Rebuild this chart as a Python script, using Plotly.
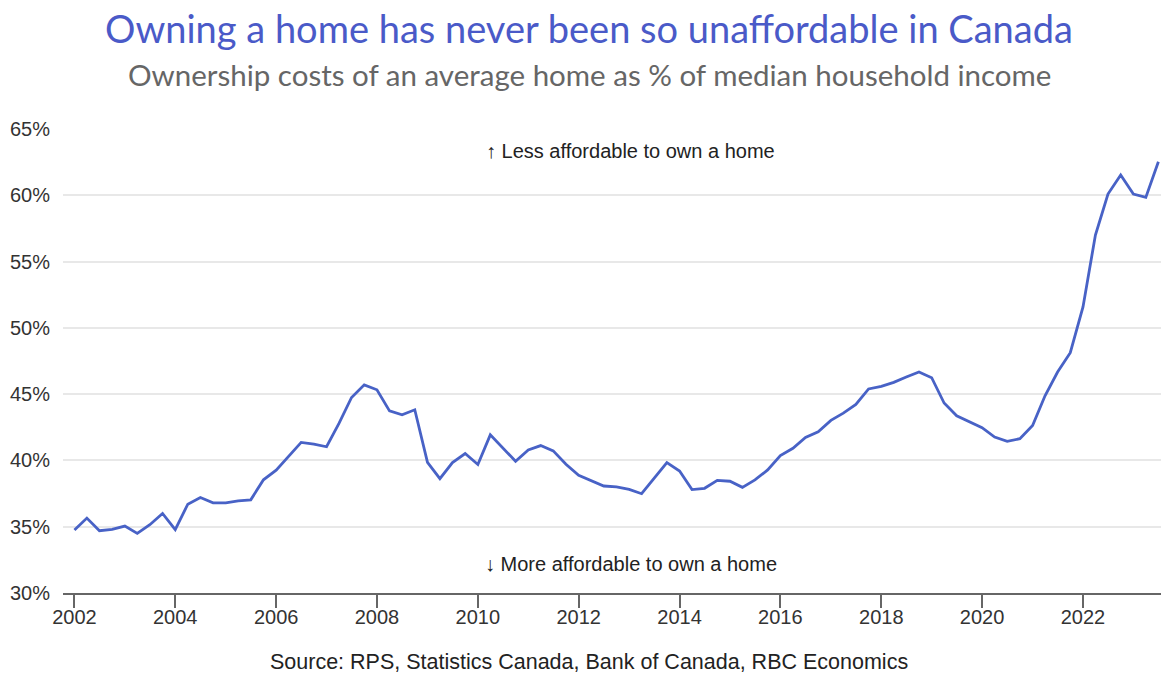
import pandas as pd
import plotly.graph_objects as go

# Quarterly ownership costs (% of median household income), 2002Q1 - 2023Q3
quarters = pd.date_range("2002-01-01", periods=87, freq="QS")
ownership_cost_pct = [
    34.75, 35.65, 34.70, 34.80,   # 2002
    35.05, 34.50, 35.15, 36.00,   # 2003
    34.78, 36.70, 37.20, 36.80,   # 2004
    36.80, 36.95, 37.03, 38.54,   # 2005
    39.27, 40.28, 41.36, 41.23,   # 2006
    41.03, 42.79, 44.75, 45.70,   # 2007
    45.33, 43.74, 43.44, 43.82,   # 2008
    39.85, 38.62, 39.84, 40.52,   # 2009
    39.69, 41.93, 40.97, 39.94,   # 2010
    40.79, 41.12, 40.72, 39.71,   # 2011
    38.88, 38.50, 38.07, 38.00,   # 2012
    37.82, 37.49, 38.65, 39.84,   # 2013
    39.20, 37.80, 37.90, 38.50,   # 2014
    38.43, 37.97, 38.53, 39.28,   # 2015
    40.37, 40.92, 41.73, 42.16,   # 2016
    43.02, 43.57, 44.23, 45.39,   # 2017
    45.59, 45.89, 46.29, 46.67,   # 2018
    46.24, 44.33, 43.37, 42.95,   # 2019
    42.47, 41.76, 41.44, 41.64,   # 2020
    42.64, 44.88, 46.67, 48.13,   # 2021
    51.58, 57.00, 60.09, 61.53,   # 2022
    60.09, 59.84, 62.53,          # 2023
]

y_ticks = [30, 35, 40, 45, 50, 55, 60, 65]
y_tick_labels = [f"{v}%" for v in y_ticks]
x_tick_years = list(range(2002, 2023, 2))

title_text = "Owning a home has never been so unaffordable in Canada"
subtitle_text = "Ownership costs of an average home as % of median household income"
source_text = "Source: RPS, Statistics Canada, Bank of Canada, RBC Economics"
upper_note = "↑ Less affordable to own a home"
lower_note = "↓ More affordable to own a home"

LINE_COLOR = "#4862c6"
TITLE_COLOR = "#4a5ac8"
SANS = "Liberation Sans, Arial, sans-serif"
TICK_FONT = dict(family=SANS, size=20, color="#333333")

fig = go.Figure()
fig.add_trace(go.Scatter(
    x=quarters,
    y=ownership_cost_pct,
    mode="lines",
    line=dict(color=LINE_COLOR, width=2.8),
    hovertemplate="%{x|%Y Q%q}: %{y:.1f}%<extra></extra>",
))

fig.update_layout(
    width=1161,
    height=673,
    margin=dict(l=63, r=0, t=129, b=80),
    paper_bgcolor="white",
    plot_bgcolor="white",
    showlegend=False,
    xaxis=dict(
        type="date",
        range=["2001-10-10", "2023-07-20"],
        tickvals=[f"{y}-01-01" for y in x_tick_years],
        ticktext=[str(y) for y in x_tick_years],
        ticks="outside",
        ticklen=13,
        tickwidth=1.5,
        tickcolor="#666666",
        showline=True,
        linecolor="#666666",
        linewidth=1.5,
        showgrid=False,
        zeroline=False,
        tickfont=TICK_FONT,
        ticklabelstandoff=-8,
    ),
    yaxis=dict(
        range=[30, 65],
        tickvals=y_ticks,
        ticktext=y_tick_labels,
        showgrid=True,
        gridcolor="#e8e8e8",
        gridwidth=1.5,
        zeroline=False,
        showline=False,
        ticks="",
        tickfont=TICK_FONT,
        ticklabelstandoff=12,
    ),
    annotations=[
        dict(text=title_text, x=0.4795, y=28, xref="paper", yref="paper",
             showarrow=False, xanchor="center", yanchor="middle",
             font=dict(family="Lato, Noto Sans, sans-serif", size=38, color=TITLE_COLOR)),
        dict(text=subtitle_text, x=0.4795, y=75, xref="paper", yref="paper",
             showarrow=False, xanchor="center", yanchor="middle",
             font=dict(family="Lato, Noto Sans, sans-serif", size=29.5, color="#666666")),
        dict(text=upper_note, x=0.517, y=63.35, xref="paper", yref="y",
             showarrow=False, xanchor="center", yanchor="middle",
             font=dict(family=SANS, size=20, color="#222222")),
        dict(text=lower_note, x=0.517, y=32.2, xref="paper", yref="y",
             showarrow=False, xanchor="center", yanchor="middle",
             font=dict(family=SANS, size=20, color="#222222")),
        dict(text=source_text, x=0.4795, y=662, xref="paper", yref="paper",
             showarrow=False, xanchor="center", yanchor="middle",
             font=dict(family=SANS, size=21.5, color="#222222")),
    ],
)

# Title, subtitle and source are placed in pixel terms converted to paper units
plot_top, plot_bottom = 129, 673 - 80
def px_to_paper(py):
    return (plot_bottom - py) / (plot_bottom - plot_top)

for ann in fig.layout.annotations:
    if ann.yref == "paper":
        ann.y = px_to_paper(ann.y)

fig.write_html("out.html")
